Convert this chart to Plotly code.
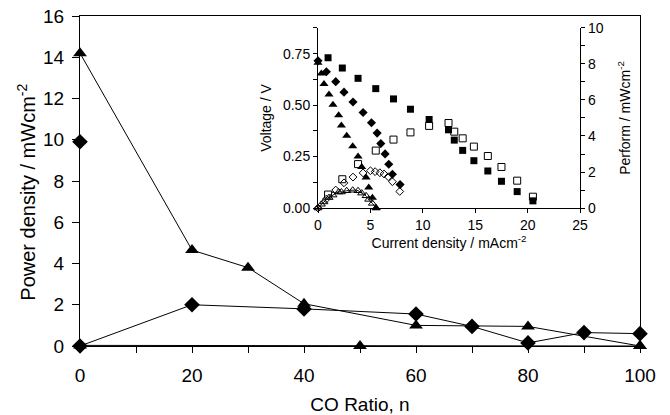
import plotly.graph_objects as go

# ---- main chart data ----
co_ratio_tri = [0, 20, 30, 40, 60, 80, 100]
power_tri = [14.2, 4.65, 3.8, 2.05, 1.0, 0.95, 0.0]

co_ratio_dia = [0, 20, 40, 60, 70, 80, 90, 100]
power_dia = [0.0, 2.0, 1.8, 1.55, 0.95, 0.15, 0.65, 0.6]

co_ratio_dia_single = [0]
power_dia_single = [9.9]

co_ratio_base = [0, 50, 100]
power_base = [0.03, 0.0, 0.0]

# ---- inset data ----
cur_sq = [0.96, 2.32, 3.82, 5.51, 7.2, 8.82, 10.6, 12.45, 13.0, 13.8, 14.87, 16.2, 17.5, 19.0, 20.5]
volt_sq = [0.73, 0.68, 0.63, 0.58, 0.53, 0.48, 0.43, 0.38, 0.33, 0.28, 0.23, 0.18, 0.13, 0.08, 0.035]
perf_sq = [0.75, 1.6, 2.44, 3.19, 3.8, 4.2, 4.56, 4.72, 4.24, 3.87, 3.41, 2.89, 2.28, 1.52, 0.63]

cur_dia = [0, 0.8, 1.69, 2.48, 3.34, 4.3, 5.1, 5.64, 5.99, 6.4, 6.75, 7.1, 7.83]
volt_dia = [0.715, 0.662, 0.614, 0.563, 0.515, 0.464, 0.414, 0.364, 0.313, 0.263, 0.213, 0.164, 0.114]
cur_odia = [0, 0.8, 1.69, 2.48, 3.34, 4.3, 5.0, 5.45, 5.9, 6.3, 6.7, 7.1, 7.8]
perf_dia = [0, 0.5, 1.0, 1.4, 1.72, 1.95, 2.07, 2.02, 1.96, 1.89, 1.74, 1.46, 0.92]

cur_tri = [0, 0.32, 0.57, 1.05, 1.43, 1.97, 2.23, 2.74, 3.31, 3.82, 4.17, 4.59, 4.84, 5.19, 5.54]
volt_tri = [0.706, 0.654, 0.602, 0.552, 0.502, 0.451, 0.401, 0.351, 0.300, 0.25, 0.2, 0.149, 0.1, 0.05, 0.0]
perf_tri = [0, 0.21, 0.34, 0.58, 0.72, 0.89, 0.89, 0.96, 0.99, 0.96, 0.83, 0.68, 0.48, 0.26, 0]

FONT = "Liberation Sans, Arial, sans-serif"
fig = go.Figure()

line_k = dict(color="black", width=1)
# main traces
fig.add_trace(go.Scatter(x=co_ratio_base, y=power_base, mode="lines+markers", line=line_k,
                         marker=dict(symbol="triangle-up", size=12, color="black"), cliponaxis=False))
fig.add_trace(go.Scatter(x=co_ratio_tri, y=power_tri, mode="lines+markers", line=line_k,
                         marker=dict(symbol="triangle-up", size=12, color="black"), cliponaxis=False))
fig.add_trace(go.Scatter(x=co_ratio_dia, y=power_dia, mode="lines+markers", line=line_k,
                         marker=dict(symbol="diamond", size=12, color="black"), cliponaxis=False))
fig.add_trace(go.Scatter(x=co_ratio_dia_single, y=power_dia_single, mode="markers",
                         marker=dict(symbol="diamond", size=12, color="black"), cliponaxis=False))

# inset traces
fig.add_trace(go.Scatter(x=cur_sq, y=volt_sq, mode="markers", xaxis="x2", yaxis="y2",
                         marker=dict(symbol="square", size=7, color="black"), cliponaxis=False))
fig.add_trace(go.Scatter(x=cur_dia, y=volt_dia, mode="markers", xaxis="x2", yaxis="y2",
                         marker=dict(symbol="diamond", size=7, color="black"), cliponaxis=False))
fig.add_trace(go.Scatter(x=cur_tri, y=volt_tri, mode="markers", xaxis="x2", yaxis="y2",
                         marker=dict(symbol="triangle-up", size=8, color="black"), cliponaxis=False))
fig.add_trace(go.Scatter(x=cur_sq, y=perf_sq, mode="markers", xaxis="x2", yaxis="y3",
                         marker=dict(symbol="square-open", size=7, color="black", line=dict(width=1)),
                         cliponaxis=False))
fig.add_trace(go.Scatter(x=cur_odia, y=perf_dia, mode="markers", xaxis="x2", yaxis="y3",
                         marker=dict(symbol="diamond-open", size=6, color="black", line=dict(width=1)),
                         cliponaxis=False))
fig.add_trace(go.Scatter(x=cur_tri, y=perf_tri, mode="lines", xaxis="x2", yaxis="y3",
                         line=dict(color="black", width=1, shape="spline", smoothing=1.3), cliponaxis=False))
fig.add_trace(go.Scatter(x=cur_tri, y=perf_tri, mode="markers", xaxis="x2", yaxis="y3",
                         marker=dict(symbol="triangle-up-open", size=7, color="black", line=dict(width=1)),
                         cliponaxis=False))


def ax(ticklen=5, **kw):
    d = dict(showgrid=False, zeroline=False, linecolor="black", linewidth=1, automargin=False,
             ticks="outside", tickcolor="black", ticklen=ticklen, tickwidth=1)
    d.update(kw)
    return d


fig.update_layout(
    width=670, height=415,
    margin=dict(l=80, r=30, t=16, b=69),
    paper_bgcolor="white", plot_bgcolor="white",
    showlegend=False,
    font=dict(family=FONT, color="black"),
    xaxis=ax(ticklen=6, range=[0, 100], dtick=20, mirror=True, ticklabelstandoff=6,
             minor=dict(dtick=10, ticks="outside", ticklen=6, tickcolor="black"),
             tickfont=dict(size=19), title=dict(text="CO Ratio, n", font=dict(size=19), standoff=13)),
    yaxis=ax(ticklen=7, range=[0, 16], dtick=2, mirror=True, ticklabelstandoff=4,
             tickfont=dict(size=19)),
    xaxis2=ax(ticklen=4, domain=[0.425, 0.893], anchor="y2", range=[0, 25], dtick=5,
              tickfont=dict(size=14),
              title=dict(text="Current density / mAcm<sup>-2</sup>", font=dict(size=14), standoff=4)),
    yaxis2=ax(ticklen=4, domain=[0.418, 0.964], anchor="x2", range=[0, 0.875],
              tickvals=[0, 0.25, 0.5, 0.75], tickformat=".2f",
              minor=dict(tickvals=[0.125, 0.375, 0.625, 0.875], ticks="outside", ticklen=4, tickcolor="black"),
              tickfont=dict(size=14),
              title=dict(text="Voltage / V", font=dict(size=14), standoff=8)),
    yaxis3=ax(ticklen=4, overlaying="y2", anchor="x2", side="right", range=[0, 10], dtick=2,
              minor=dict(dtick=1, ticks="outside", ticklen=4, tickcolor="black"),
              tickfont=dict(size=14),
              title=dict(text="Perform / mWcm<sup>-2</sup>", font=dict(size=14), standoff=17)),
    annotations=[dict(text="Power density / mWcm<sup>-2</sup>", xref="paper", yref="paper",
                      x=-0.095, y=0.467, textangle=-90, showarrow=False,
                      xanchor="center", yanchor="middle", font=dict(size=20))],
)

fig.write_html("out.html", config={"displayModeBar": False},
               post_script="document.body.style.margin='0';")
